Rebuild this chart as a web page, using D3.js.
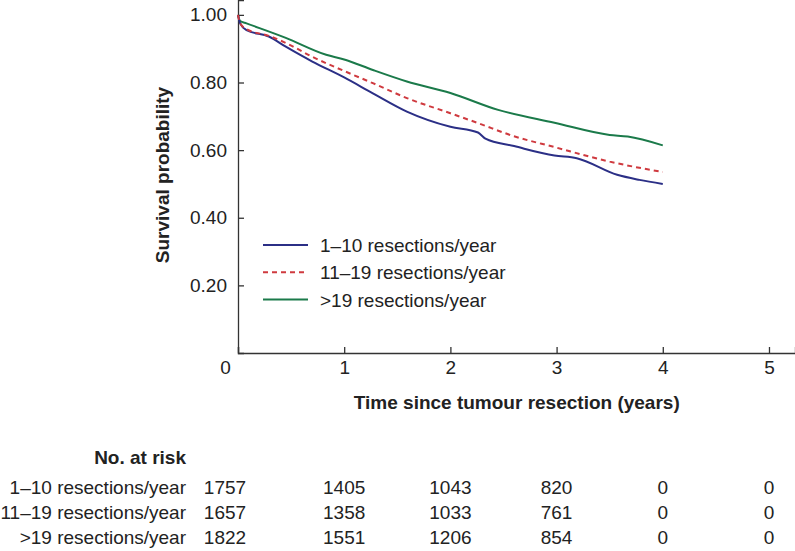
<!DOCTYPE html>
<html>
<head>
<meta charset="utf-8">
<script src="https://cdn.jsdelivr.net/npm/d3@7"></script>
<style>
  body { margin: 0; background: #fff; }
  svg text { font-family: "Liberation Sans", Arial, Helvetica, sans-serif; fill: #222; }
</style>
</head>
<body>
<div id="chart"></div>
<script>
// groups and their legend / table labels
const groups = ['1\u201310 resections/year', '11\u201319 resections/year', '>19 resections/year']

// survival curves (time in years)
const timeLow = [0, 0.02, 0.08, 0.29, 0.45, 0.7, 1.0, 1.27, 1.59, 2.0, 2.26, 2.33, 2.6, 2.98, 3.19, 3.57, 3.78, 4.0]
const survLow = [1.0, 0.975, 0.955, 0.936, 0.906, 0.862, 0.815, 0.768, 0.714, 0.669, 0.652, 0.634, 0.612, 0.584, 0.576, 0.527, 0.512, 0.500]

const timeMid = [0, 0.02, 0.08, 0.29, 0.45, 0.7, 1.0, 1.27, 1.59, 2.0, 2.26, 2.6, 2.98, 3.5, 4.0]
const survMid = [1.0, 0.975, 0.958, 0.938, 0.917, 0.876, 0.834, 0.798, 0.754, 0.709, 0.680, 0.641, 0.609, 0.566, 0.535]

const timeHigh = [0, 0.02, 0.08, 0.45, 0.83, 1.0, 1.27, 1.59, 2.0, 2.45, 2.98, 3.5, 3.67, 4.0]
const survHigh = [1.0, 0.982, 0.975, 0.932, 0.882, 0.868, 0.837, 0.803, 0.769, 0.719, 0.681, 0.645, 0.640, 0.614]

// numbers at risk at t = 0..5
const riskTimes = [0, 1, 2, 3, 4, 5]
const riskLow = [1757, 1405, 1043, 820, 0, 0]
const riskMid = [1657, 1358, 1033, 761, 0, 0]
const riskHigh = [1822, 1551, 1206, 854, 0, 0]

const xTicks = [0, 1, 2, 3, 4, 5]
const yTicks = [0.2, 0.4, 0.6, 0.8, 1.0]

const colors = ['#2b2f86', '#cf3a3f', '#1b7a4a']
const dashes = [null, '5,4', null]
const fontSize = '19px'

const svgWidth = 795, svgHeight = 551
const margin = { top: 0, right: 0, bottom: 198, left: 238 }
const width = svgWidth - margin.left - margin.right
const height = svgHeight - margin.top - margin.bottom

const svg = d3.select('#chart').append('svg')
    .attr('width', svgWidth)
    .attr('height', svgHeight)

const g = svg.append('g')
    .attr('transform', 'translate(' + margin.left + ',' + margin.top + ')')

const x = d3.scaleLinear().domain([0, 5.245]).range([0, width])
const y = d3.scaleLinear().domain([0, 1.044]).range([height, 0])

// axes, ticks pointing inwards
const xAxis = g.append('g')
    .attr('transform', 'translate(0,' + height + ')')
    .call(d3.axisBottom(x).tickValues(xTicks).tickSize(-6).tickPadding(8).tickFormat(d3.format('d')))
const yAxis = g.append('g')
    .call(d3.axisLeft(y).tickValues(yTicks).tickSize(-6).tickPadding(11).tickFormat(d3.format('.2f')))

;[xAxis, yAxis].forEach(a => {
    a.attr('font-size', null)
    a.select('.domain').attr('stroke', '#333').attr('stroke-width', 1.3)
    a.selectAll('.tick line').attr('stroke', '#333').attr('stroke-width', 1.3)
    a.selectAll('.tick text').style('font-size', fontSize).attr('fill', '#222')
})
// shared origin label sits left of the corner
xAxis.selectAll('.tick text').filter(d => d === 0).attr('dx', -13)

// axis titles
svg.append('text')
    .attr('transform', 'translate(169,175) rotate(-90)')
    .attr('text-anchor', 'middle')
    .style('font-size', fontSize).style('font-weight', 'bold')
    .text('Survival probability')

svg.append('text')
    .attr('x', margin.left + x(2.625))
    .attr('y', 409)
    .attr('text-anchor', 'middle')
    .style('font-size', fontSize).style('font-weight', 'bold')
    .text('Time since tumour resection (years)')

// curves
const line = d3.line()
    .x(d => x(d[0]))
    .y(d => y(d[1]))
    .curve(d3.curveMonotoneX)

const series = [
    d3.zip(timeLow, survLow),
    d3.zip(timeMid, survMid),
    d3.zip(timeHigh, survHigh)
]

// draw high first so the lower curves sit on top near the start
;[2, 0, 1].forEach(i => {
    g.append('path')
        .datum(series[i])
        .attr('d', line)
        .attr('fill', 'none')
        .attr('stroke', colors[i])
        .attr('stroke-width', 2)
        .attr('stroke-dasharray', dashes[i])
})

// legend
const legend = svg.append('g').attr('transform', 'translate(263,245)')
groups.forEach((name, i) => {
    const row = legend.append('g').attr('transform', 'translate(0,' + (i * 27.3) + ')')
    row.append('line')
        .attr('x1', 0).attr('x2', 45)
        .attr('stroke', colors[i])
        .attr('stroke-width', 2)
        .attr('stroke-dasharray', dashes[i])
    row.append('text')
        .attr('x', 57).attr('y', 7)
        .style('font-size', fontSize)
        .text(name)
})

// numbers at risk table
const table = svg.append('g')
table.append('text')
    .attr('x', 186).attr('y', 464)
    .attr('text-anchor', 'end')
    .style('font-size', fontSize).style('font-weight', 'bold')
    .text('No. at risk')

const risks = [riskLow, riskMid, riskHigh]
risks.forEach((vals, i) => {
    const yy = 494 + i * 25
    table.append('text')
        .attr('x', 186).attr('y', yy)
        .attr('text-anchor', 'end')
        .style('font-size', fontSize)
        .text(groups[i])
    table.selectAll(null)
        .data(d3.zip(riskTimes, vals))
        .join('text')
        .attr('x', d => margin.left + x(d[0]) + (d[0] === 0 ? -13 : 0))
        .attr('y', yy)
        .attr('text-anchor', 'middle')
        .style('font-size', fontSize)
        .text(d => d[1])
})
</script>
</body>
</html>
